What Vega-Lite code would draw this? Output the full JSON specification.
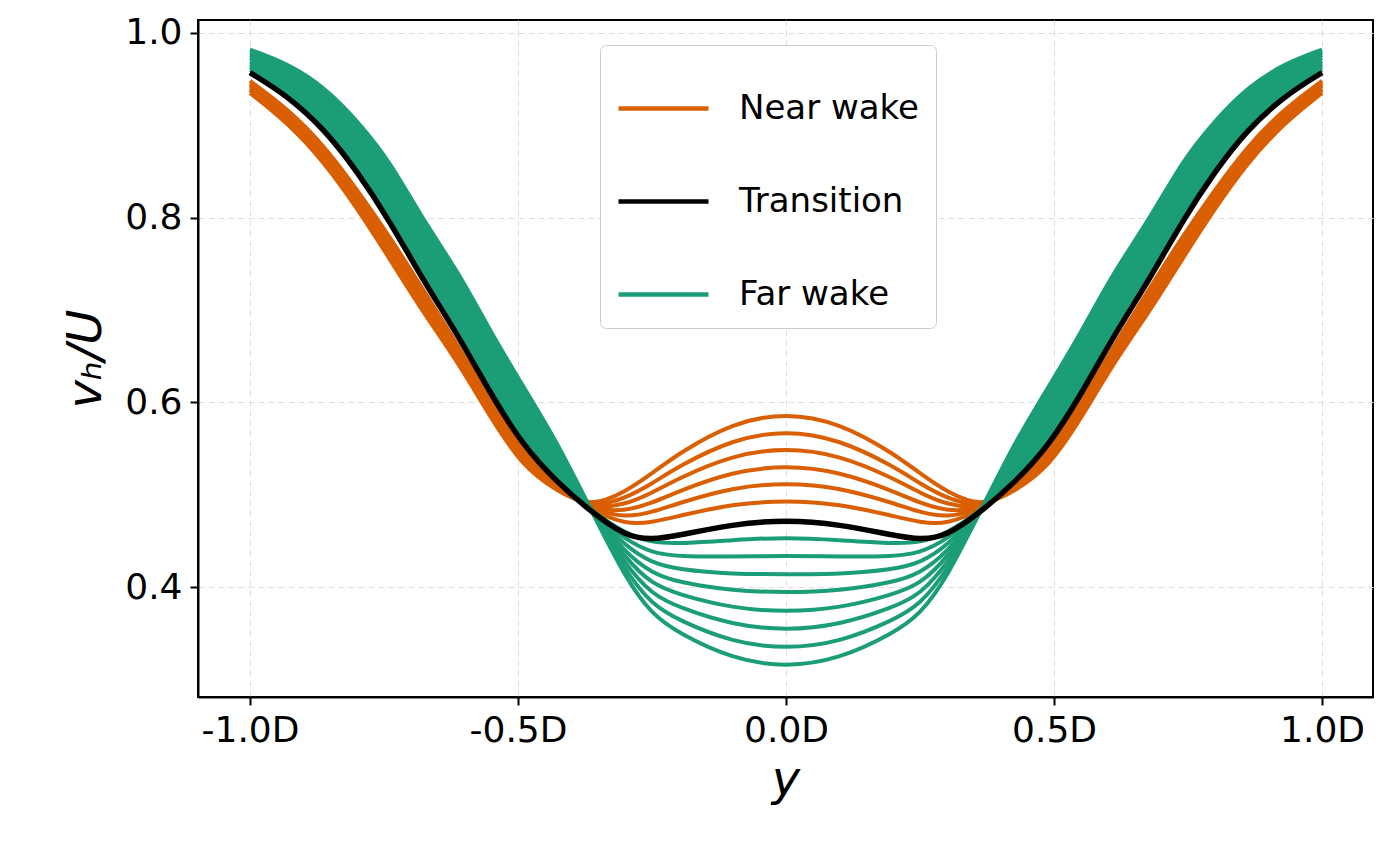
{
  "$schema": "https://vega.github.io/schema/vega-lite/v6.json",
  "width": 1175,
  "height": 677,
  "autosize": {"type": "none"},
  "padding": {"left": 198, "top": 20, "right": 18, "bottom": 164},
  "background": "white",
  "config": {
    "view": {"stroke": "black", "strokeWidth": 2},
    "font": "DejaVu Sans",
    "axis": {
      "labelFont": "DejaVu Sans", "labelFontSize": 36, "labelColor": "black",
      "titleFont": "DejaVu Sans", "titleColor": "black", "titleFontWeight": "normal",
      "titleFontStyle": "italic", "titleFontSize": 48,
      "domainColor": "black", "domainWidth": 2, "tickColor": "black", "tickWidth": 2, "tickSize": 8,
      "labelPadding": 8, "gridColor": "#dddddd", "gridDash": [6, 4], "gridWidth": 1
    }
  },
  "datasets": {
    "profiles": [
      {"y": -1.0, "side": "L", "O1": 0.935, "O2": 0.938, "O3": 0.940, "O4": 0.943, "O5": 0.945, "O6": 0.948, "T": 0.957, "G1": 0.960, "G2": 0.963, "G3": 0.966, "G4": 0.969, "G5": 0.973, "G6": 0.976, "G7": 0.979, "G8": 0.982},
      {"y": -0.93, "side": "L", "O1": 0.903, "O2": 0.906, "O3": 0.909, "O4": 0.912, "O5": 0.915, "O6": 0.918, "T": 0.932, "G1": 0.937, "G2": 0.941, "G3": 0.946, "G4": 0.950, "G5": 0.954, "G6": 0.958, "G7": 0.963, "G8": 0.967},
      {"y": -0.86, "side": "L", "O1": 0.859, "O2": 0.863, "O3": 0.866, "O4": 0.870, "O5": 0.873, "O6": 0.877, "T": 0.895, "G1": 0.900, "G2": 0.906, "G3": 0.912, "G4": 0.918, "G5": 0.923, "G6": 0.929, "G7": 0.935, "G8": 0.941},
      {"y": -0.8, "side": "L", "O1": 0.810, "O2": 0.814, "O3": 0.818, "O4": 0.822, "O5": 0.826, "O6": 0.830, "T": 0.850, "G1": 0.857, "G2": 0.864, "G3": 0.871, "G4": 0.878, "G5": 0.884, "G6": 0.891, "G7": 0.898, "G8": 0.905},
      {"y": -0.74, "side": "L", "O1": 0.756, "O2": 0.761, "O3": 0.766, "O4": 0.770, "O5": 0.775, "O6": 0.780, "T": 0.797, "G1": 0.805, "G2": 0.813, "G3": 0.821, "G4": 0.829, "G5": 0.838, "G6": 0.846, "G7": 0.854, "G8": 0.862},
      {"y": -0.68, "side": "L", "O1": 0.700, "O2": 0.705, "O3": 0.710, "O4": 0.715, "O5": 0.720, "O6": 0.725, "T": 0.735, "G1": 0.745, "G2": 0.753, "G3": 0.761, "G4": 0.769, "G5": 0.776, "G6": 0.784, "G7": 0.792, "G8": 0.800},
      {"y": -0.61, "side": "L", "O1": 0.642, "O2": 0.646, "O3": 0.649, "O4": 0.653, "O5": 0.656, "O6": 0.660, "T": 0.671, "G1": 0.680, "G2": 0.689, "G3": 0.697, "G4": 0.706, "G5": 0.714, "G6": 0.723, "G7": 0.731, "G8": 0.740},
      {"y": -0.55, "side": "L", "O1": 0.582, "O2": 0.586, "O3": 0.589, "O4": 0.593, "O5": 0.596, "O6": 0.600, "T": 0.608, "G1": 0.615, "G2": 0.624, "G3": 0.632, "G4": 0.641, "G5": 0.649, "G6": 0.658, "G7": 0.666, "G8": 0.675},
      {"y": -0.49, "side": "L", "O1": 0.530, "O2": 0.534, "O3": 0.537, "O4": 0.541, "O5": 0.544, "O6": 0.548, "T": 0.553, "G1": 0.562, "G2": 0.570, "G3": 0.578, "G4": 0.586, "G5": 0.594, "G6": 0.602, "G7": 0.610, "G8": 0.617},
      {"y": -0.43, "side": "L", "O1": 0.505, "O2": 0.507, "O3": 0.508, "O4": 0.510, "O5": 0.511, "O6": 0.513, "T": 0.515, "G1": 0.520, "G2": 0.526, "G3": 0.531, "G4": 0.537, "G5": 0.543, "G6": 0.549, "G7": 0.554, "G8": 0.560},
      {"y": -0.365, "side": "L", "O1": 0.486, "O2": 0.485, "O3": 0.485, "O4": 0.484, "O5": 0.484, "O6": 0.483, "T": 0.482, "G1": 0.483, "G2": 0.483, "G3": 0.484, "G4": 0.484, "G5": 0.484, "G6": 0.484, "G7": 0.485, "G8": 0.485},
      {"y": -0.3, "side": "L", "O1": 0.503, "O2": 0.496, "O3": 0.489, "O4": 0.482, "O5": 0.475, "O6": 0.468, "T": 0.455, "G1": 0.458, "G2": 0.451, "G3": 0.444, "G4": 0.437, "G5": 0.431, "G6": 0.424, "G7": 0.417, "G8": 0.410},
      {"y": -0.25, "side": "L", "O1": 0.523, "O2": 0.512, "O3": 0.502, "O4": 0.491, "O5": 0.481, "O6": 0.470, "T": 0.451, "G1": 0.448, "G2": 0.437, "G3": 0.426, "G4": 0.415, "G5": 0.403, "G6": 0.392, "G7": 0.381, "G8": 0.370},
      {"y": -0.2, "side": "L", "O1": 0.545, "O2": 0.531, "O3": 0.518, "O4": 0.504, "O5": 0.491, "O6": 0.477, "T": 0.456, "G1": 0.447, "G2": 0.433, "G3": 0.419, "G4": 0.405, "G5": 0.392, "G6": 0.378, "G7": 0.364, "G8": 0.350},
      {"y": -0.1, "side": "L", "O1": 0.578, "O2": 0.560, "O3": 0.543, "O4": 0.525, "O5": 0.508, "O6": 0.490, "T": 0.468, "G1": 0.451, "G2": 0.433, "G3": 0.414, "G4": 0.396, "G5": 0.377, "G6": 0.359, "G7": 0.340, "G8": 0.322},
      {"y": 0.0, "side": "C", "O1": 0.589, "O2": 0.570, "O3": 0.551, "O4": 0.532, "O5": 0.513, "O6": 0.494, "T": 0.473, "G1": 0.454, "G2": 0.434, "G3": 0.414, "G4": 0.394, "G5": 0.373, "G6": 0.353, "G7": 0.333, "G8": 0.313},
      {"y": 0.1, "side": "R", "O1": 0.578, "O2": 0.560, "O3": 0.543, "O4": 0.525, "O5": 0.508, "O6": 0.490, "T": 0.468, "G1": 0.451, "G2": 0.433, "G3": 0.414, "G4": 0.396, "G5": 0.377, "G6": 0.359, "G7": 0.340, "G8": 0.322},
      {"y": 0.2, "side": "R", "O1": 0.545, "O2": 0.531, "O3": 0.518, "O4": 0.504, "O5": 0.491, "O6": 0.477, "T": 0.456, "G1": 0.447, "G2": 0.433, "G3": 0.419, "G4": 0.405, "G5": 0.392, "G6": 0.378, "G7": 0.364, "G8": 0.350},
      {"y": 0.25, "side": "R", "O1": 0.523, "O2": 0.512, "O3": 0.502, "O4": 0.491, "O5": 0.481, "O6": 0.470, "T": 0.451, "G1": 0.448, "G2": 0.437, "G3": 0.426, "G4": 0.415, "G5": 0.403, "G6": 0.392, "G7": 0.381, "G8": 0.370},
      {"y": 0.3, "side": "R", "O1": 0.503, "O2": 0.496, "O3": 0.489, "O4": 0.482, "O5": 0.475, "O6": 0.468, "T": 0.455, "G1": 0.458, "G2": 0.451, "G3": 0.444, "G4": 0.437, "G5": 0.431, "G6": 0.424, "G7": 0.417, "G8": 0.410},
      {"y": 0.365, "side": "R", "O1": 0.486, "O2": 0.485, "O3": 0.485, "O4": 0.484, "O5": 0.484, "O6": 0.483, "T": 0.482, "G1": 0.483, "G2": 0.483, "G3": 0.484, "G4": 0.484, "G5": 0.484, "G6": 0.484, "G7": 0.485, "G8": 0.485},
      {"y": 0.43, "side": "R", "O1": 0.505, "O2": 0.507, "O3": 0.508, "O4": 0.510, "O5": 0.511, "O6": 0.513, "T": 0.515, "G1": 0.520, "G2": 0.526, "G3": 0.531, "G4": 0.537, "G5": 0.543, "G6": 0.549, "G7": 0.554, "G8": 0.560},
      {"y": 0.49, "side": "R", "O1": 0.530, "O2": 0.534, "O3": 0.537, "O4": 0.541, "O5": 0.544, "O6": 0.548, "T": 0.553, "G1": 0.562, "G2": 0.570, "G3": 0.578, "G4": 0.586, "G5": 0.594, "G6": 0.602, "G7": 0.610, "G8": 0.617},
      {"y": 0.55, "side": "R", "O1": 0.582, "O2": 0.586, "O3": 0.589, "O4": 0.593, "O5": 0.596, "O6": 0.600, "T": 0.608, "G1": 0.615, "G2": 0.624, "G3": 0.632, "G4": 0.641, "G5": 0.649, "G6": 0.658, "G7": 0.666, "G8": 0.675},
      {"y": 0.61, "side": "R", "O1": 0.642, "O2": 0.646, "O3": 0.649, "O4": 0.653, "O5": 0.656, "O6": 0.660, "T": 0.671, "G1": 0.680, "G2": 0.689, "G3": 0.697, "G4": 0.706, "G5": 0.714, "G6": 0.723, "G7": 0.731, "G8": 0.740},
      {"y": 0.68, "side": "R", "O1": 0.700, "O2": 0.705, "O3": 0.710, "O4": 0.715, "O5": 0.720, "O6": 0.725, "T": 0.735, "G1": 0.745, "G2": 0.753, "G3": 0.761, "G4": 0.769, "G5": 0.776, "G6": 0.784, "G7": 0.792, "G8": 0.800},
      {"y": 0.74, "side": "R", "O1": 0.756, "O2": 0.761, "O3": 0.766, "O4": 0.770, "O5": 0.775, "O6": 0.780, "T": 0.797, "G1": 0.805, "G2": 0.813, "G3": 0.821, "G4": 0.829, "G5": 0.838, "G6": 0.846, "G7": 0.854, "G8": 0.862},
      {"y": 0.8, "side": "R", "O1": 0.810, "O2": 0.814, "O3": 0.818, "O4": 0.822, "O5": 0.826, "O6": 0.830, "T": 0.850, "G1": 0.857, "G2": 0.864, "G3": 0.871, "G4": 0.878, "G5": 0.884, "G6": 0.891, "G7": 0.898, "G8": 0.905},
      {"y": 0.86, "side": "R", "O1": 0.859, "O2": 0.863, "O3": 0.866, "O4": 0.870, "O5": 0.873, "O6": 0.877, "T": 0.895, "G1": 0.900, "G2": 0.906, "G3": 0.912, "G4": 0.918, "G5": 0.923, "G6": 0.929, "G7": 0.935, "G8": 0.941},
      {"y": 0.93, "side": "R", "O1": 0.903, "O2": 0.906, "O3": 0.909, "O4": 0.912, "O5": 0.915, "O6": 0.918, "T": 0.932, "G1": 0.937, "G2": 0.941, "G3": 0.946, "G4": 0.950, "G5": 0.954, "G6": 0.958, "G7": 0.963, "G8": 0.967},
      {"y": 1.0, "side": "R", "O1": 0.935, "O2": 0.938, "O3": 0.940, "O4": 0.943, "O5": 0.945, "O6": 0.948, "T": 0.957, "G1": 0.960, "G2": 0.963, "G3": 0.966, "G4": 0.969, "G5": 0.973, "G6": 0.976, "G7": 0.979, "G8": 0.982}
    ],
    "families": [
      {"key": "O1", "family": "Near wake"}, {"key": "O2", "family": "Near wake"}, {"key": "O3", "family": "Near wake"},
      {"key": "O4", "family": "Near wake"}, {"key": "O5", "family": "Near wake"}, {"key": "O6", "family": "Near wake"},
      {"key": "T", "family": "Transition"},
      {"key": "G1", "family": "Far wake"}, {"key": "G2", "family": "Far wake"}, {"key": "G3", "family": "Far wake"},
      {"key": "G4", "family": "Far wake"}, {"key": "G5", "family": "Far wake"}, {"key": "G6", "family": "Far wake"},
      {"key": "G7", "family": "Far wake"}, {"key": "G8", "family": "Far wake"}
    ]
  },
  "data": {"name": "profiles"},
  "encoding": {
    "x": {
      "field": "y", "type": "quantitative", "title": "y",
      "scale": {"domain": [-1.097, 1.095], "nice": false, "zero": false},
      "axis": {"values": [-1, -0.5, 0, 0.5, 1], "labelExpr": "replace(format(datum.value, '.1f'), '−', '-') + 'D'", "titlePadding": 8}
    }
  },
  "layer": [
    {
      "transform": [{"filter": "datum.side != 'C' && abs(datum.y) >= 0.365"}],
      "mark": {"type": "area", "color": "#d95f02", "interpolate": "basis"},
      "encoding": {
        "detail": {"field": "side"},
        "y": {"field": "O1", "type": "quantitative"},
        "y2": {"field": "O6"}
      }
    },
    {
      "transform": [{"filter": "datum.side != 'C' && abs(datum.y) >= 0.365"}],
      "mark": {"type": "area", "color": "#1b9e77", "interpolate": "basis"},
      "encoding": {
        "detail": {"field": "side"},
        "y": {"field": "G1", "type": "quantitative"},
        "y2": {"field": "G8"}
      }
    },
    {
      "transform": [
        {"fold": ["O1", "O2", "O3", "O4", "O5", "O6", "G1", "G2", "G3", "G4", "G5", "G6", "G7", "G8", "T"], "as": ["key", "v"]},
        {"lookup": "key", "from": {"data": {"name": "families"}, "key": "key", "fields": ["family"]}}
      ],
      "mark": {"type": "line", "interpolate": "basis", "strokeCap": "butt"},
      "encoding": {
        "detail": {"field": "key"},
        "order": {"field": "y", "type": "quantitative"},
        "y": {
          "field": "v", "type": "quantitative", "title": "vₕ/U",
          "scale": {"domain": [0.281, 1.014], "nice": false, "zero": false},
          "axis": {"values": [0.4, 0.6, 0.8, 1.0], "format": ".1f", "titlePadding": 14}
        },
        "color": {
          "field": "family", "type": "nominal",
          "scale": {"domain": ["Near wake", "Transition", "Far wake"], "range": ["#d95f02", "#000000", "#1b9e77"]},
          "legend": {
            "title": null, "orient": "none", "legendX": 402, "legendY": 25,
            "symbolType": "stroke", "symbolSize": 8100, "symbolStrokeWidth": 4.5,
            "labelFontSize": 34, "labelFont": "DejaVu Sans", "labelColor": "black", "labelOffset": 28, "labelLimit": 0,
            "rowPadding": 28, "padding": 16, "cornerRadius": 6,
            "strokeColor": "#cccccc", "fillColor": "white"
          }
        },
        "strokeWidth": {"condition": {"test": "datum.family == 'Transition'", "value": 5.5}, "value": 4}
      }
    }
  ]
}
